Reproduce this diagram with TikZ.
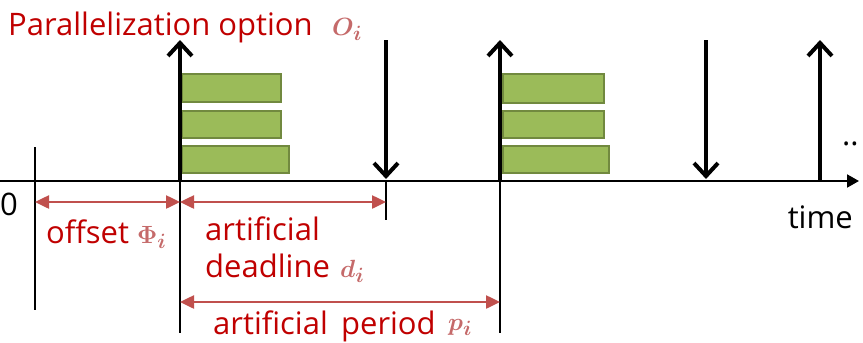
\documentclass[tikz,border=0pt]{standalone}
\usepackage{amsmath}
\usepackage{bm}
\usepackage{fontspec}
\setmainfont{Open Sans}
\usetikzlibrary{arrows.meta}
\definecolor{txtred}{HTML}{C00000}
\definecolor{symred}{HTML}{C56A6A}
\definecolor{dimred}{HTML}{C0504D}
\definecolor{jobfill}{HTML}{9BBB59}
\definecolor{jobline}{HTML}{71893F}

\begin{document}
\begin{tikzpicture}[x=1pt,y=-1pt,
  every node/.style={inner sep=0pt,font=\fontsize{31}{34}\selectfont},
  release/.style={line width=4pt,-{Straight Barb[length=13pt,width=24pt,line width=4pt]}},
  tick/.style={line width=2.2pt},
  dim/.style={dimred,line width=2.5pt,{Triangle[length=14pt,width=13pt]}-{Triangle[length=14pt,width=13pt]}},
  job/.style={fill=jobfill,draw=jobline,line width=2pt},
  lbl/.style={txtred,anchor=base west},
  sym/.style={symred,anchor=base west,font=\fontsize{32}{34}\selectfont}]
\useasboundingbox (0,0) rectangle (863,343);
% time points on the axis
\coordinate (orig) at (0,181);
\coordinate (tend) at (859,181);
\coordinate (t0) at (35,181);
\coordinate (r1) at (180,181);
\coordinate (d1) at (386,181);
\coordinate (r2) at (500,181);
\coordinate (d2) at (706,181);
\coordinate (r3) at (820,181);
% ends of the arrows and ticks
\coordinate (t0top) at (35,147);
\coordinate (t0bot) at (35,310);
\coordinate (r1top) at (180,40);
\coordinate (r1bot) at (180,333);
\coordinate (d1top) at (386,40);
\coordinate (d1tip) at (386,179);
\coordinate (d1bot) at (386,220);
\coordinate (r2top) at (500,40);
\coordinate (r2bot) at (500,333);
\coordinate (d2top) at (706,40);
\coordinate (d2tip) at (706,179);
\coordinate (r3top) at (820,40);
% axis
\draw [line width=2pt,-{Triangle[length=12pt,width=13pt]}] (orig) -- (tend);
\node [anchor=base west] (zero) at (0,215) {0};
\node [anchor=base east] (time) at (853,228) {time};
\node [anchor=base west] (dots) at (842,145) {..};
% ticks below the axis
\draw [tick] (t0top) -- (t0bot);
\draw [tick] (r1) -- (r1bot);
\draw [tick] (d1) -- (d1bot);
\draw [tick] (r2) -- (r2bot);
% parallel jobs
\draw [job] (182,74) rectangle (281,102);
\draw [job] (182,111) rectangle (281,138);
\draw [job] (182,146) rectangle (289,173);
\draw [job] (503,74) rectangle (604,103);
\draw [job] (503,111) rectangle (604,138);
\draw [job] (503,146) rectangle (609,173);
% releases and deadlines
\draw [release] (r1) -- (r1top);
\draw [release] (d1top) -- (d1tip);
\draw [release] (r2) -- (r2top);
\draw [release] (d2top) -- (d2tip);
\draw [release] (r3) -- (r3top);
% intervals
\coordinate (offL) at (35,202);
\coordinate (offR) at (180,202);
\coordinate (dlR) at (386,202);
\coordinate (perL) at (180,302);
\coordinate (perR) at (500,302);
\draw [dim] (offL) -- (offR);
\draw [dim] (offR) -- (dlR);
\draw [dim] (perL) -- (perR);
% labels
\node [lbl] (opt) at (8,35) {Parallelization option};
\node [sym] (optsym) at (332,35) {$\bm{O_i}$};
\node [lbl] (off) at (46,243) {offset};
\node [sym] (offsym) at (137,243) {$\bm{\Phi_i}$};
\node [lbl] (art) at (205,240) {artificial};
\node [lbl] (dl) at (205,277) {deadline};
\node [sym] (dlsym) at (340,277) {$\bm{d_i}$};
\node [lbl] (per) at (213,334) {artificial\, period};
\node [sym] (persym) at (448,330) {$\bm{p_i}$};
\end{tikzpicture}
\end{document}
